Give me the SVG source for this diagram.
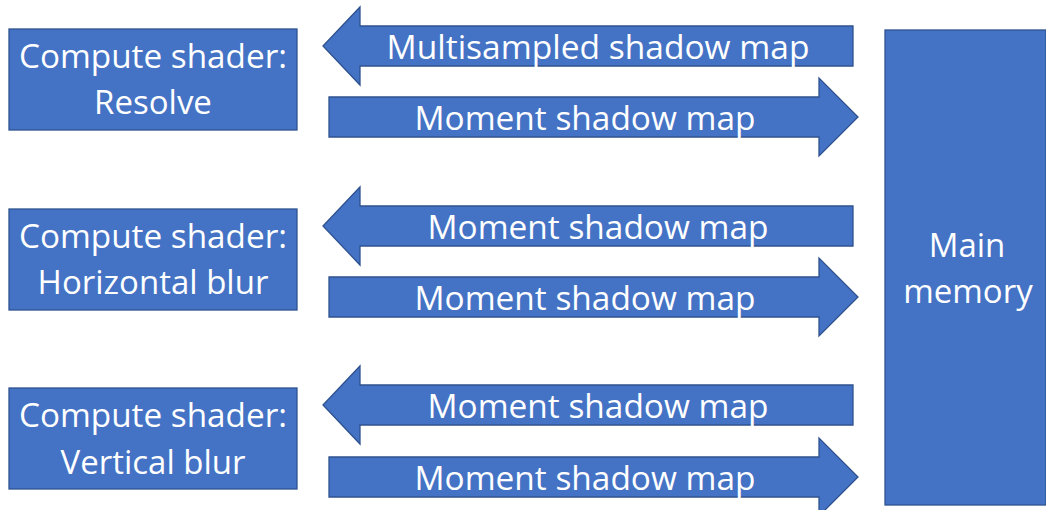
<svg xmlns="http://www.w3.org/2000/svg" width="1046" height="510" viewBox="0 0 1046 510">
<style>
.shape{fill:#4472C4;stroke:#2F528F;stroke-width:1.3}
.t{font-family:"Open Sans","Liberation Sans",sans-serif;font-size:33px;fill:#ffffff;text-anchor:middle}
</style>
<defs>
<path id="la" d="M0 0 L37 -39 L37 -20 L530 -20 L530 20 L37 20 L37 39 Z"/>
<path id="ra" d="M0 -20 L490 -20 L490 -39 L529 0 L490 39 L490 20 L0 20 Z"/>
</defs>
<rect width="1046" height="510" fill="#ffffff"/>
<g id="connectors">
<use href="#la" class="shape" x="323" y="46"/>
<use href="#ra" class="shape" x="329" y="117"/>
<use href="#la" class="shape" x="323" y="226"/>
<use href="#ra" class="shape" x="329" y="297"/>
<use href="#la" class="shape" x="323" y="405"/>
<use href="#ra" class="shape" x="329" y="477"/>
<text class="t" x="598" y="59" textLength="423" lengthAdjust="spacingAndGlyphs">Multisampled shadow map</text>
<text class="t" x="585" y="130" textLength="341" lengthAdjust="spacingAndGlyphs">Moment shadow map</text>
<text class="t" x="598" y="239" textLength="341" lengthAdjust="spacingAndGlyphs">Moment shadow map</text>
<text class="t" x="585" y="310" textLength="341" lengthAdjust="spacingAndGlyphs">Moment shadow map</text>
<text class="t" x="598" y="418" textLength="341" lengthAdjust="spacingAndGlyphs">Moment shadow map</text>
<text class="t" x="585" y="490" textLength="341" lengthAdjust="spacingAndGlyphs">Moment shadow map</text>
</g>
<g id="resolve">
<rect class="shape" x="9" y="29" width="288" height="101"/>
<text class="t" x="153" y="68" textLength="268" lengthAdjust="spacingAndGlyphs">Compute shader:</text>
<text class="t" x="153" y="114">Resolve</text>
</g>
<g id="hblur">
<rect class="shape" x="9" y="209" width="288" height="101"/>
<text class="t" x="153" y="248" textLength="268" lengthAdjust="spacingAndGlyphs">Compute shader:</text>
<text class="t" x="153" y="294">Horizontal blur</text>
</g>
<g id="vblur">
<rect class="shape" x="9" y="388" width="288" height="101"/>
<text class="t" x="153" y="427" textLength="268" lengthAdjust="spacingAndGlyphs">Compute shader:</text>
<text class="t" x="153" y="474">Vertical blur</text>
</g>
<g id="memory">
<rect class="shape" x="885" y="30" width="161" height="475"/>
<text class="t" x="967" y="257">Main</text>
<text class="t" x="968" y="303">memory</text>
</g>
</svg>
